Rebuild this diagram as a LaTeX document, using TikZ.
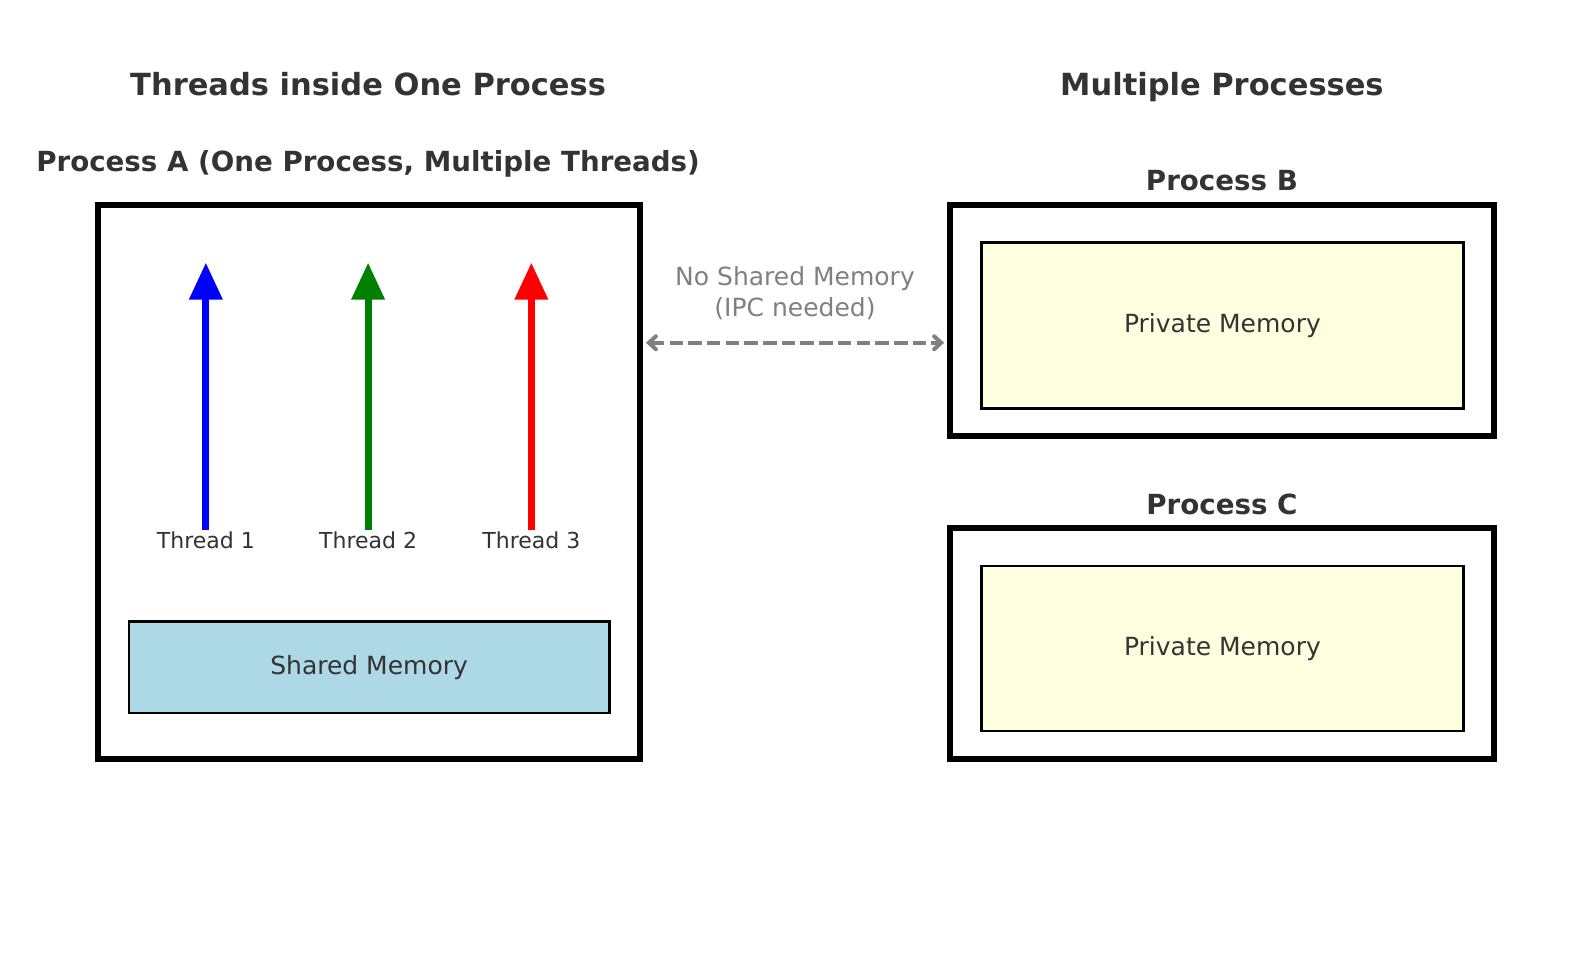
\documentclass[tikz,border=0pt]{standalone}
\usepackage{fontspec}
\setmainfont{DejaVu Sans}
\usetikzlibrary{arrows.meta}
\definecolor{txt}{HTML}{333333}
\definecolor{shm}{HTML}{ADD8E6}
\definecolor{prm}{HTML}{FFFFE0}
\definecolor{grn}{HTML}{008000}
\begin{document}
\begin{tikzpicture}[x=1.014pt,y=-1.014pt,
  title/.style={font=\bfseries\fontsize{30.5}{36}\selectfont, text=txt, inner sep=0, anchor=base},
  sub/.style={font=\bfseries\fontsize{27.7}{33}\selectfont, text=txt, inner sep=0, anchor=base},
  outer/.style={draw=black, line width=6pt, fill=white},
  mem/.style={draw=black, line width=2.5pt, font=\fontsize{25}{30}\selectfont, text=txt},
  lbl/.style={font=\fontsize{22}{26}\selectfont, text=txt, inner sep=0, anchor=base},
  thr/.style={line width=7pt, -{Triangle[width=32pt,length=37pt]}}]
\useasboundingbox (0,0) rectangle (1567,950.7);
\node[title] (t1) at (363,94) {Threads inside One Process};
\node[title] (t2) at (1205,94) {Multiple Processes};
\node[sub] (pa) at (363,169.3) {Process A (One Process, Multiple Threads)};
\path[outer] (97,202) rectangle (631,748);
\node[mem, fill=shm, minimum width=480.6pt, minimum height=91.3pt] (sm) at (364,658) {Shared Memory};
\node[lbl] (th1) at (203,541) {Thread 1};
\node[lbl] (th2) at (363,541) {Thread 2};
\node[lbl] (th3) at (524,541) {Thread 3};
\coordinate (a1s) at (203,523); \coordinate (a1e) at (203,259);
\coordinate (a2s) at (363,523); \coordinate (a2e) at (363,259);
\coordinate (a3s) at (524,523); \coordinate (a3e) at (524,259);
\draw[thr, blue] (a1s) -- (a1e);
\draw[thr, grn] (a2s) -- (a2e);
\draw[thr, red] (a3s) -- (a3e);
% right side
\node[sub] (pb) at (1205,188.3) {Process B};
\path[outer] (937,202) rectangle (1473,430);
\node[mem, fill=prm, minimum width=481.6pt, minimum height=166.3pt] (mb) at (1205.5,321) {Private Memory};
\node[sub] (pc) at (1205,507) {Process C};
\path[outer] (937,521) rectangle (1473,748);
\node[mem, fill=prm, minimum width=481.6pt, minimum height=165.3pt] (mc) at (1205.5,639.5) {Private Memory};
% dashed arrow
\coordinate (dl) at (637,338);
\coordinate (dr) at (931,338);
\draw[gray, line width=4pt, dash pattern=on 13.5pt off 5.2pt, {Straight Barb[length=7pt,width=13pt,line cap=round]}-{Straight Barb[length=7pt,width=13pt,line cap=round]}] (dl) -- (dr);
\node[lbl, text=gray, font=\fontsize{25}{31}\selectfont] (ipc1) at (784,281.6) {No Shared Memory};
\node[lbl, text=gray, font=\fontsize{25}{31}\selectfont] (ipc2) at (784,311.9) {(IPC needed)};
\end{tikzpicture}
\end{document}
